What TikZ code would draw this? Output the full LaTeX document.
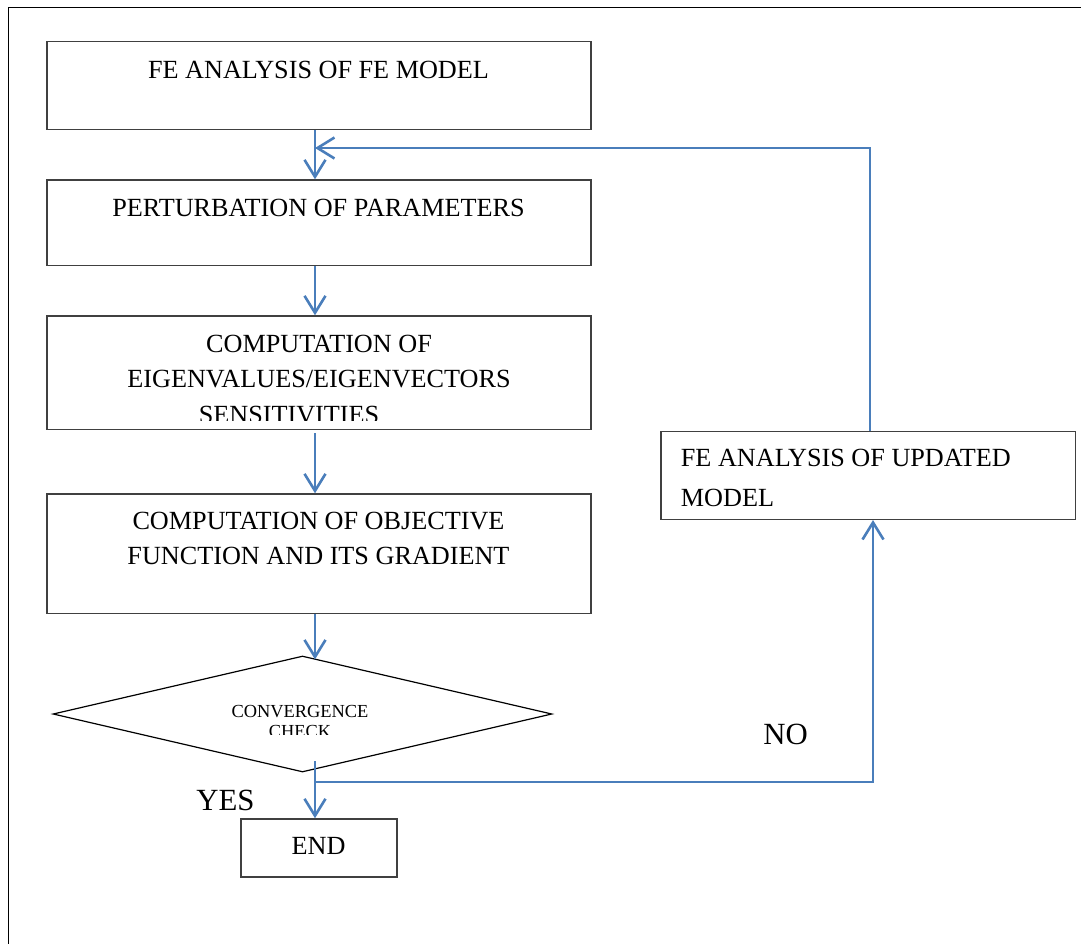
\documentclass[tikz,border=0pt]{standalone}
\usepackage{fontspec}
\setmainfont{Liberation Serif}
\usetikzlibrary{arrows.meta,shapes.geometric}
\definecolor{flowblue}{RGB}{74,126,187}

\begin{document}
\begin{tikzpicture}[x=1pt,y=-1pt,
    box/.style={draw=black!75,line width=1.5pt,rectangle,inner sep=0pt},
    txt/.style={anchor=base,inner sep=0pt,font=\fontsize{26.2}{35.5}\selectfont},
    small/.style={anchor=base,inner sep=0pt,font=\fontsize{18.4}{22}\selectfont},
    big/.style={anchor=base,inner sep=0pt,font=\fontsize{30.8}{36}\selectfont},
    flow/.style={draw=flowblue,line width=2.6pt,-{Straight Barb[length=17pt,width=21pt,line width=2.6pt]}},
    link/.style={draw=flowblue,line width=2.6pt}]
    \useasboundingbox (0,0) rectangle (1081,944);
    % page frame
    \draw[line width=1.8pt] (8.5,944) -- (8.5,7.5) -- (1081,7.5);

    % boxes
    \node[box,minimum width=544pt,minimum height=87.6pt] (fe) at (319,85.5) {};
    \node[box,minimum width=544pt,minimum height=85.3pt] (pert) at (319,222.7) {};
    \node[box,minimum width=544pt,minimum height=113.3pt] (eig) at (319,372.7) {};
    \node[box,minimum width=544pt,minimum height=119.3pt] (obj) at (319,553.7) {};
    \node[draw,line width=1.2pt,diamond,inner sep=0pt,minimum width=499pt,minimum height=116pt] (check) at (302.5,714) {};
    \node[box,minimum width=156pt,minimum height=58pt] (done) at (319,848) {};
    \node[box,minimum width=414.3pt,minimum height=87.6pt] (upd) at (868.2,475.5) {};

    % texts
    \node[txt] (fet) at (318.5,79) {FE ANALYSIS OF FE MODEL};
    \node[txt] (pertt) at (318.5,217) {PERTURBATION OF PARAMETERS};
    \node[txt] (eigt1) at (319,352) {COMPUTATION OF};
    \node[txt] (eigt2) at (319,387) {EIGENVALUES/EIGENVECTORS};
    \begin{scope}
        \clip (47,316) rectangle (591,420);
        \node[txt] (eigt3) at (289,423) {SENSITIVITIES};
    \end{scope}
    \node[txt] (objt1) at (318.5,529) {COMPUTATION OF OBJECTIVE};
    \node[txt] (objt2) at (318.5,564) {FUNCTION AND ITS GRADIENT};
    \node[small] (checkt1) at (300,717.3) {CONVERGENCE};
    \begin{scope}
        \clip (200,720) rectangle (400,734.3);
        \node[small] (checkt2) at (300,737.5) {CHECK};
    \end{scope}
    \node[txt] (donet) at (318.5,854) {END};
    \node[txt,anchor=base west] (updt1) at (680.7,466) {FE ANALYSIS OF UPDATED};
    \node[txt,anchor=base west] (updt2) at (680.7,506) {MODEL};
    \node[big] (yes) at (225.4,810) {YES};
    \node[big] (no) at (785.5,744) {NO};

    % connectors
    \coordinate (col) at (315,0);
    \coordinate (fb) at (870,148);
    \coordinate (ystart) at (315,761);
    \coordinate (split) at (315,782);
    \coordinate (nocorner) at (873,782);
    \draw[flow] (fe.south -| col) -- (pert.north -| col);
    \draw[flow] (pert.south -| col) -- (eig.north -| col);
    \draw[flow] ([yshift=-3pt]eig.south -| col) -- (obj.north -| col);
    \draw[flow] (obj.south -| col) -- ([yshift=-4pt]check.north -| col);
    \draw[flow] (ystart) -- (done.north -| col);
    \draw[flow] (split) -- (nocorner) -- (upd.south -| nocorner);
    \draw[flow] (upd.north -| fb) -- (fb) -- (fb -| col);
\end{tikzpicture}
\end{document}
